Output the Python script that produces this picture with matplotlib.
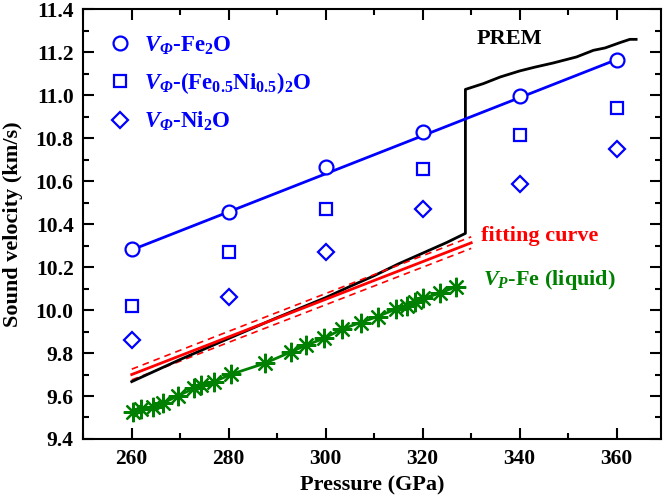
import numpy as np
import matplotlib
matplotlib.use('Agg')
import matplotlib.pyplot as plt
from matplotlib.ticker import MultipleLocator, FormatStrFormatter

plt.rcParams['font.family'] = 'Liberation Serif'
plt.rcParams['font.weight'] = 'bold'
plt.rcParams['mathtext.fontset'] = 'custom'
plt.rcParams['mathtext.rm'] = 'Liberation Serif:bold'
plt.rcParams['mathtext.it'] = 'Liberation Serif:italic:bold'
plt.rcParams['mathtext.bf'] = 'Liberation Serif:bold'
plt.rcParams['mathtext.bfit'] = 'Liberation Serif:italic:bold'

# computed points (GPa, km/s)
pressure = [260, 280, 300, 320, 340, 360]
v_fe2o = [10.285, 10.455, 10.668, 10.828, 10.995, 11.166]
v_feni = [10.02, 10.27, 10.47, 10.655, 10.815, 10.941]
v_ni2o = [9.86, 10.06, 10.27, 10.47, 10.585, 10.749]

# linear fit through Fe2O
fe2o_fit_p = [260, 360]
fe2o_fit_v = [10.28, 11.166]

# PREM
prem_p = [260, 270, 280, 290, 300, 305, 310, 315, 320, 325, 328.8,
          328.8, 332.5, 336, 340, 343, 346.9, 351.7, 355.2, 357.6, 360.7, 362.7, 364]
prem_v = [9.667, 9.77, 9.868, 9.965, 10.058, 10.11, 10.16, 10.215, 10.265, 10.315, 10.357,
          11.027, 11.054, 11.085, 11.113, 11.13, 11.15, 11.178, 11.209, 11.22, 11.245, 11.26, 11.26]

# fitting curve with bounds
fit_p = [260, 330]
fit_v = [9.70, 10.313]
fit_hi = [9.725, 10.341]
fit_lo = [9.675, 10.287]

# Vp of liquid Fe
fe_p = [260.2, 262.0, 264.3, 266.4, 269.5, 272.9, 274.2, 276.9, 280.5, 287.4, 292.9,
        296.0, 299.6, 303.4, 307.2, 310.7, 314.4, 316.8, 318.5, 320.1, 323.5, 326.8]
fe_v = [9.524, 9.538, 9.550, 9.566, 9.601, 9.636, 9.651, 9.666, 9.701, 9.752, 9.806,
        9.837, 9.868, 9.912, 9.942, 9.970, 10.004, 10.021, 10.039, 10.055, 10.078, 10.108]

fig = plt.figure(figsize=(6.66, 5.01), dpi=100)
ax = fig.add_axes([0.125, 0.1238, 0.868, 0.8577])

ax.plot(prem_p, prem_v, color='black', lw=2, zorder=3)
ax.plot(fit_p, fit_v, color='red', lw=2, zorder=4)
ax.plot(fit_p, fit_hi, color='red', lw=1.2, ls=(0, (4, 3)), zorder=4)
ax.plot(fit_p, fit_lo, color='red', lw=1.2, ls=(0, (4, 3)), zorder=2)
ax.plot(fe_p, fe_v, color='green', lw=2, marker=(8, 2, 0), ms=14, mew=1.6, zorder=5)
ax.plot(fe2o_fit_p, fe2o_fit_v, color='blue', lw=2, zorder=3)

phi = r'$V_{\mathbfit{\Phi}}$'
h1, = ax.plot(pressure, v_fe2o, ls='none', marker='o', ms=10, mfc='white', mec='blue', mew=1.6, zorder=6,
              label=phi + r'-Fe$_{2}$O')
h2, = ax.plot(pressure, v_feni, ls='none', marker='s', ms=8.5, mfc='white', mec='blue', mew=1.6, zorder=6,
              label=phi + r'-(Fe$_{0.5}$Ni$_{0.5}$)$_{2}$O')
h3, = ax.plot(pressure, v_ni2o, ls='none', marker='D', ms=8.5, mfc='white', mec='blue', mew=1.6, zorder=6,
              label=phi + r'-Ni$_{2}$O')

ax.legend(handles=[h1, h2, h3], loc='upper left', frameon=False, fontsize=16.5,
          labelcolor='blue', handlelength=1.2, handletextpad=0.45, labelspacing=0.6,
          bbox_to_anchor=(0.0, 0.995), borderaxespad=0.6)

ax.text(337.8, 11.26, 'PREM', fontsize=16, fontweight='bold', ha='center', va='center')
ax.text(332.0, 10.344, 'fitting curve', fontsize=16, fontweight='bold', color='red', va='center')
ax.text(332.4, 10.14, r'$V_{P}$-Fe (liquid)', fontsize=16, fontweight='bold', color='green', va='center')

ax.set_xlim(250, 369.2)
ax.set_ylim(9.4, 11.4)
ax.xaxis.set_major_locator(MultipleLocator(20))
ax.xaxis.set_minor_locator(MultipleLocator(10))
ax.yaxis.set_major_locator(MultipleLocator(0.2))
ax.yaxis.set_minor_locator(MultipleLocator(0.1))
ax.yaxis.set_major_formatter(FormatStrFormatter('%.1f'))
ax.tick_params(which='both', direction='in', top=True, right=True, labelsize=15.5, width=1.5)
ax.tick_params(which='major', length=8)
ax.tick_params(axis='y', which='major', pad=7)
ax.tick_params(axis='x', which='major', pad=7)
ax.tick_params(which='minor', length=4.5)
for s in ax.spines.values():
    s.set_linewidth(1.5)

ax.set_xlabel('Pressure (GPa)', fontsize=16, fontweight='bold', labelpad=5)
ax.set_ylabel('Sound velocity (km/s)', fontsize=16, fontweight='bold', labelpad=9)

fig.savefig('out.png', dpi=100)
